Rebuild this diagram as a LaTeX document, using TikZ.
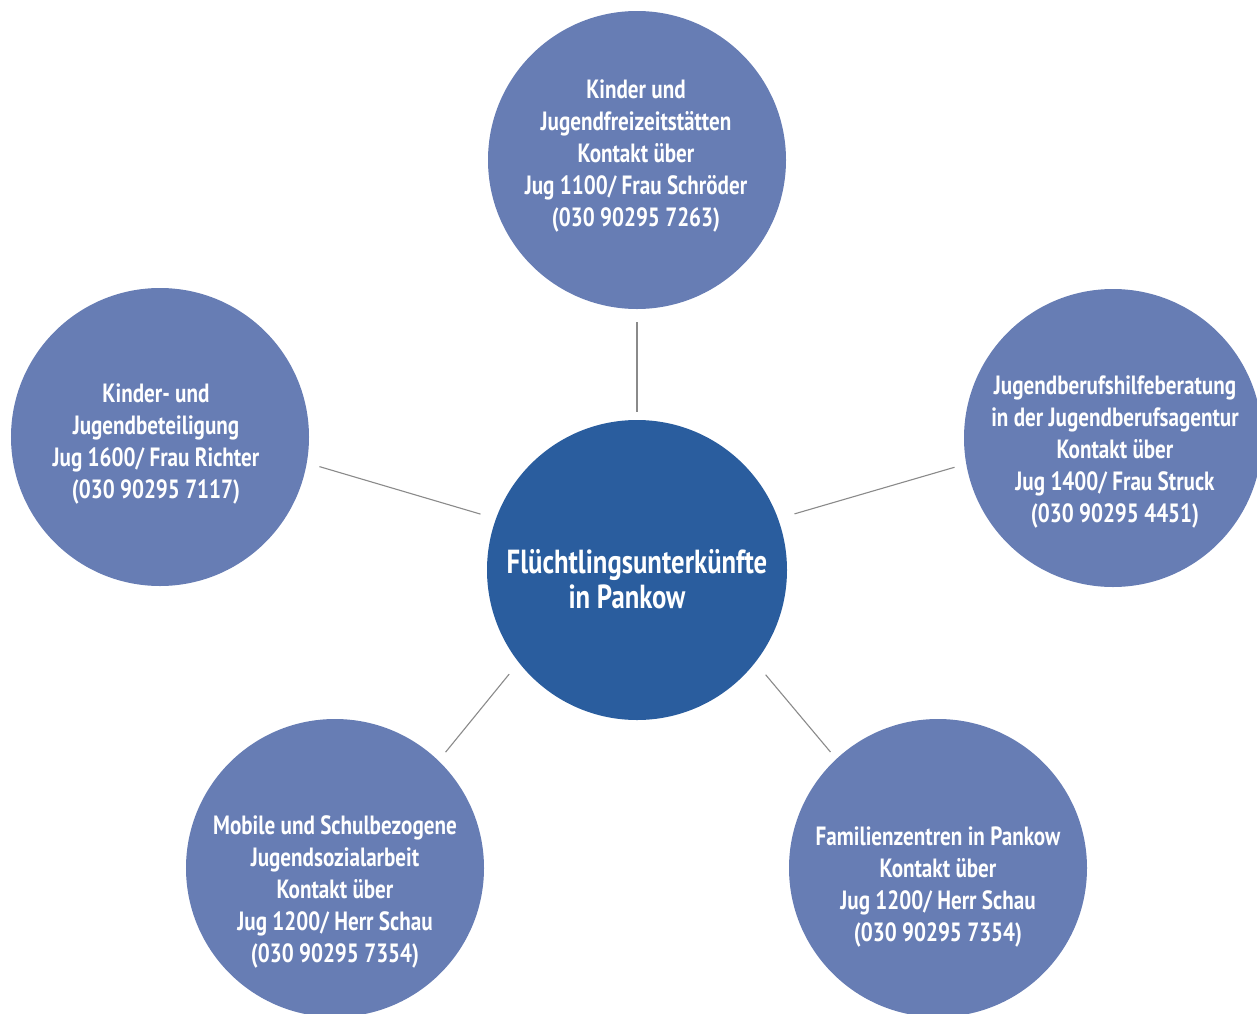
\documentclass[tikz,border=0pt]{standalone}
\usepackage{fontspec}
\newfontfamily\lbl{PT Sans}[FakeStretch=0.8]
\definecolor{outerblue}{HTML}{677DB4}
\definecolor{centerblue}{HTML}{2A5D9E}
\definecolor{linegray}{HTML}{8A8A8A}
\begin{document}
\begin{tikzpicture}[x=1bp,y=-1bp,
  outer/.style={circle,fill=outerblue,draw=none,minimum size=298bp,inner sep=0pt},
  inner/.style={circle,fill=centerblue,draw=none,minimum size=300bp,inner sep=0pt},
  otext/.style={text=white,align=center,inner sep=0pt,font=\lbl\bfseries\fontsize{26.5}{32}\selectfont},
  ctext/.style={text=white,align=center,inner sep=0pt,font=\lbl\bfseries\fontsize{33.5}{35}\selectfont},
  link/.style={draw=linegray,line width=1.1bp}]
\useasboundingbox (0,0) rectangle (1257,1014);
\node[inner] (center) at (637,570) {};
\node[outer] (top) at (637,160) {};
\node[outer] (left) at (160,437) {};
\node[outer] (right) at (1113,438) {};
\node[outer] (bl) at (335,868) {};
\node[outer] (br) at (938,868) {};
\node[ctext] (ct) at (637,579) {Flüchtlingsunterkünfte\\in Pankow\hspace*{0.6em}};
\node[otext] (tt) at (636,156) {Kinder und\\Jugendfreizeitstätten\\Kontakt über\\Jug 1100/ Frau Schröder\\(030 90295 7263)};
\node[otext] (lt) at (156,444) {Kinder- und\\Jugendbeteiligung\\Jug 1600/ Frau Richter\\(030 90295 7117)};
\node[otext] (rt) at (1115,452) {Jugendberufshilfeberatung\\in der Jugendberufsagentur\\Kontakt über\\Jug 1400/ Frau Struck\\(030 90295 4451)};
\node[otext] (blt) at (335,892) {Mobile und Schulbezogene\\Jugendsozialarbeit\\Kontakt über\\Jug 1200/ Herr Schau\\(030 90295 7354)};
\node[otext] (brt) at (938,887) {Familienzentren in Pankow\\Kontakt über\\Jug 1200/ Herr Schau\\(030 90295 7354)};
\draw[link,shorten <=8bp,shorten >=13bp] (center.90) -- (top.-90);
\draw[link,shorten <=16bp,shorten >=13bp] (center.160) -- (left.-10);
\draw[link,shorten <=17bp,shorten >=12bp] (center.20) -- (right.190);
\draw[link,shorten <=15bp,shorten >=11bp] (center.218) -- (bl.46);
\draw[link,shorten <=16bp,shorten >=9bp] (center.-38) -- (br.133);
\end{tikzpicture}
\end{document}
